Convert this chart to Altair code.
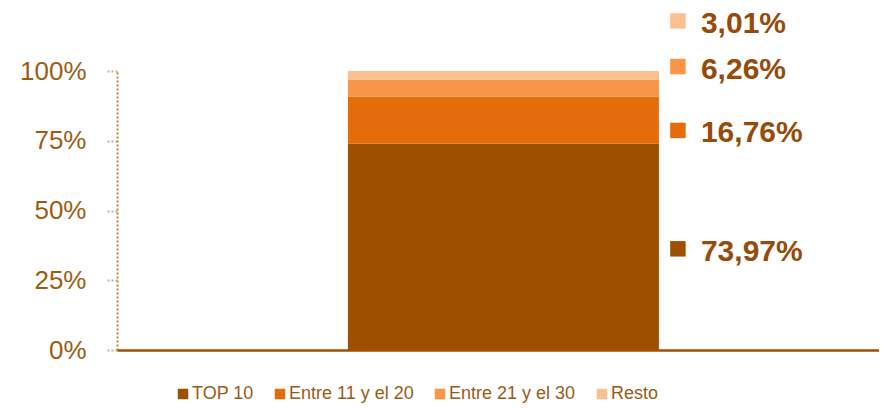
import altair as alt
import pandas as pd

# ---- data ----
categories = ["TOP 10", "Entre 11 y el 20", "Entre 21 y el 30", "Resto"]
shares = [73.97, 16.76, 6.26, 3.01]
share_labels = ["73,97%", "16,76%", "6,26%", "3,01%"]
bar_group = "Total"
y_ticks = [0, 0.25, 0.5, 0.75, 1.0]

# ---- style ----
colors = ["#9E5000", "#E46C0A", "#F79646", "#FAC090"]
PLOT_W, PLOT_H = 762, 279
label_nudge_px = [5.0, 13.2, -18.6, -51.3]   # manual label shifts (px, down = +)
square_lift_px = 3.0
axis_text = "#9E5C10"
label_text = "#964B0A"

rows = []
cum = 0.0
for i, (c, s, l, n) in enumerate(zip(categories, shares, share_labels, label_nudge_px)):
    frac = s / 100.0
    mid = cum + frac / 2
    rows.append(dict(grupo=bar_group, cat=c, value=frac, orden=i, label=l,
                     label_y=mid - n / PLOT_H,
                     sq_y=mid - (n - square_lift_px) / PLOT_H))
    cum += frac
df = pd.DataFrame(rows)

yscale = alt.Scale(domain=[0, 1], nice=False, zero=True)
xscale = alt.Scale(paddingInner=0, paddingOuter=0.725, align=0.512)
cscale = alt.Scale(domain=categories, range=colors)

x_enc = alt.X("grupo:N", scale=xscale, title=None,
              axis=alt.Axis(labels=False, ticks=False, grid=False,
                            domainColor="#A05000", domainWidth=2.5, zindex=2))

bars = alt.Chart(df).mark_bar().encode(
    x=x_enc,
    y=alt.Y("value:Q", stack="zero", scale=yscale, title=None,
            axis=alt.Axis(values=y_ticks, format=".0%", grid=False,
                          labelFont="Liberation Sans", labelFontSize=26,
                          labelColor=axis_text, labelPadding=21,
                          domainColor="#B8864F", domainDash=[2, 2], domainWidth=2,
                          tickColor="#D2AE88", tickDash=[2, 2], tickWidth=2, tickSize=10)),
    color=alt.Color("cat:N", scale=cscale,
                    legend=alt.Legend(title=None, orient="none", direction="horizontal",
                                      columns=4, legendX=57, legendY=314,
                                      symbolType="square", symbolSize=110,
                                      symbolStrokeWidth=0, labelOffset=0, columnPadding=17,
                                      labelFont="Liberation Sans", labelFontSize=18,
                                      labelColor="#9A5B14", padding=0)),
    order=alt.Order("orden:Q", sort="ascending"),
)

squares = alt.Chart(df).mark_square(size=240, opacity=1, filled=True, xOffset=19).encode(
    x=alt.X("grupo:N", scale=xscale, bandPosition=1),
    y=alt.Y("sq_y:Q", scale=yscale),
    color=alt.Color("cat:N", scale=cscale, legend=None),
)

texts = alt.Chart(df).mark_text(align="left", baseline="middle", dx=42, fontSize=30,
                                fontWeight="bold", font="Liberation Sans",
                                color=label_text).encode(
    x=alt.X("grupo:N", scale=xscale, bandPosition=1),
    y=alt.Y("label_y:Q", scale=yscale),
    text="label:N",
)

chart = alt.layer(bars, squares, texts).properties(
    width=PLOT_W, height=PLOT_H,
    autosize=alt.AutoSizeParams(type="none"),
    padding={"left": 109, "top": 63, "right": 0, "bottom": 57},
).configure(background="white", view=alt.ViewConfig(stroke=None))

chart.save("out.html", embed_options={"renderer": "svg", "actions": False})
